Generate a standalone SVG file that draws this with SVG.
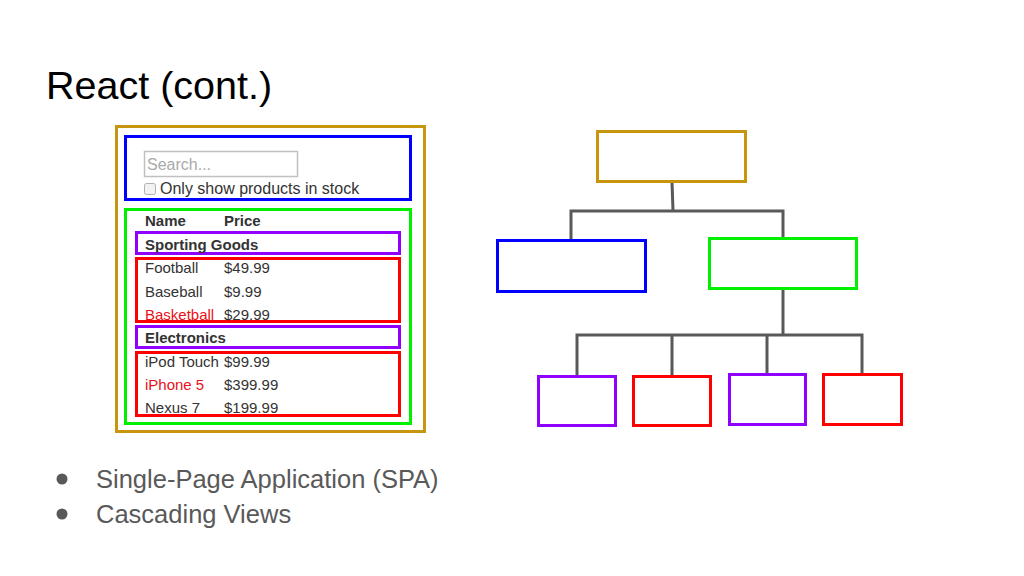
<svg xmlns="http://www.w3.org/2000/svg" width="1024" height="576" viewBox="0 0 1024 576">
<style>
.t{font-family:"Liberation Sans",Arial,sans-serif}
.box{fill:none;stroke-width:3}
.gold{stroke:#c8950f}
.blue{stroke:#0000ff}
.green{stroke:#00f000}
.purple{stroke:#9000ff}
.red{stroke:#ff0000}
.row{font-family:"Liberation Sans",Arial,sans-serif;font-size:15px;fill:#333}
.b{font-weight:bold}
.conn{fill:none;stroke:#595959;stroke-width:3;stroke-linejoin:miter}
.bul{font-family:"Liberation Sans",Arial,sans-serif;font-size:25.5px;fill:#595959}
</style>
<rect width="1024" height="576" fill="#ffffff"/>
<text class="t" x="46" y="99" font-size="39.5" fill="#000">React (cont.)</text>

<g id="mockup">
  <rect class="box gold" x="116.5" y="126.5" width="308" height="305"/>
  <rect class="box blue" x="125.5" y="136.5" width="285" height="63"/>
  <rect class="box green" x="125.5" y="209.5" width="285" height="214"/>
  <rect class="box purple" x="136.5" y="232.5" width="263" height="21"/>
  <rect class="box red" x="136.5" y="258.5" width="263" height="63"/>
  <rect class="box purple" x="136.5" y="326.5" width="263" height="21"/>
  <rect class="box red" x="136.5" y="352.5" width="263" height="63"/>
  <rect x="144.5" y="151.5" width="153" height="25" fill="#fff" stroke="#c0c0c0" stroke-width="1.5"/>
  <text class="row" x="147" y="170" style="fill:#aaaaaa;font-size:16px">Search...</text>
  <rect x="144.5" y="183.5" width="11" height="11" rx="2" fill="#f2f2f2" stroke="#b0b0b0" stroke-width="1"/>
  <text class="row" x="160" y="194" style="font-size:16px">Only show products in stock</text>
  <text class="row b" x="145" y="226">Name</text>
  <text class="row b" x="224" y="226">Price</text>
  <text class="row b" x="145" y="250">Sporting Goods</text>
  <text class="row" x="145" y="273">Football</text>
  <text class="row" x="224" y="273">$49.99</text>
  <text class="row" x="145" y="297">Baseball</text>
  <text class="row" x="224" y="297">$9.99</text>
  <text class="row" x="145" y="320" style="fill:#e8101a">Basketball</text>
  <text class="row" x="224" y="320">$29.99</text>
  <text class="row b" x="145" y="343">Electronics</text>
  <text class="row" x="145" y="367">iPod Touch</text>
  <text class="row" x="224" y="367">$99.99</text>
  <text class="row" x="145" y="390" style="fill:#e8101a">iPhone 5</text>
  <text class="row" x="224" y="390">$399.99</text>
  <text class="row" x="145" y="413">Nexus 7</text>
  <text class="row" x="224" y="413">$199.99</text>
</g>

<g id="connectors">
  <path class="conn" d="M672,182 L673,211 M571,240 L571,211 L783,211 L783,238"/>
  <path class="conn" d="M783,289 L783,335 M577,376 L577,335 L862,335 L862,374 M672,335 L672,376 M767,335 L767,374"/>
</g>

<g id="node-root"><rect class="box gold" x="597.5" y="131.5" width="148" height="50"/></g>
<g id="node-search"><rect class="box blue" x="497.5" y="240.5" width="148" height="51"/></g>
<g id="node-table"><rect class="box green" x="709.5" y="238.5" width="147" height="50"/></g>
<g id="node-cat1"><rect class="box purple" x="538.5" y="376.5" width="77" height="49"/></g>
<g id="node-rows1"><rect class="box red" x="633.5" y="376.5" width="77" height="49"/></g>
<g id="node-cat2"><rect class="box purple" x="729.5" y="374.5" width="76" height="50"/></g>
<g id="node-rows2"><rect class="box red" x="823.5" y="374.5" width="78" height="50"/></g>

<g id="bullets">
  <circle cx="62" cy="479" r="5.5" fill="#595959"/>
  <text class="bul" x="96" y="488">Single-Page Application (SPA)</text>
  <circle cx="62" cy="514" r="5.5" fill="#595959"/>
  <text class="bul" x="96" y="523">Cascading Views</text>
</g>
</svg>
